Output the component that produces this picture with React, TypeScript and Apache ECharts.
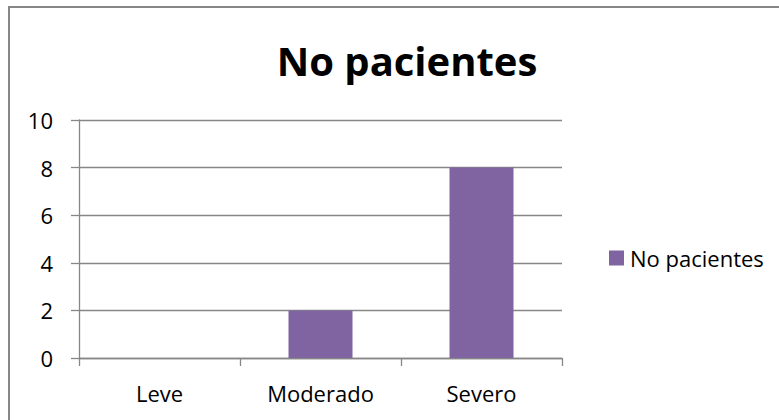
import React, { useEffect, useRef } from "react";
import * as echarts from "echarts";

const categories = ["Leve", "Moderado", "Severo"];
const seriesName = "No pacientes";
const values = [0, 2, 8];
const titleText = "No pacientes";

export default function App() {
  const ref = useRef<HTMLDivElement>(null);
  useEffect(() => {
    if (!ref.current) return;
    const chart = echarts.init(ref.current, null, { renderer: "svg" });
    const font = "Open Sans";
    const gray = "#878787";
    chart.setOption({
      animation: false,
      backgroundColor: "#ffffff",
      textStyle: { fontFamily: font },
      title: {
        text: titleText,
        left: 402,
        textAlign: "center",
        top: 35,
        textStyle: { fontFamily: font, fontSize: 40, fontWeight: "bold", color: "#000" },
      },
      legend: {
        data: [seriesName],
        left: 604,
        top: 242,
        orient: "vertical",
        icon: "rect",
        itemWidth: 15,
        itemHeight: 15,
        itemGap: 8,
        textStyle: { fontFamily: font, fontSize: 22, color: "#000", padding: [0, 0, 0, 1] },
      },
      grid: { left: 79, right: 217, top: 120, bottom: 62, containLabel: false },
      xAxis: {
        type: "category",
        data: categories,
        axisLine: { show: true, lineStyle: { color: gray, width: 1.3 } },
        axisTick: { show: true, length: 8, lineStyle: { color: gray, width: 1.3 } },
        axisLabel: { fontFamily: font, fontSize: 22, color: "#000", margin: 24 },
        splitLine: { show: false },
      },
      yAxis: {
        type: "value",
        min: 0,
        max: 10,
        interval: 2,
        axisLine: { show: true, lineStyle: { color: gray, width: 1.3 } },
        axisTick: { show: true, length: 8, lineStyle: { color: gray, width: 1.3 } },
        axisLabel: { fontFamily: font, fontSize: 22, color: "#000", margin: 26 },
        splitLine: { show: true, lineStyle: { color: gray, width: 1.3 } },
      },
      series: [
        {
          name: seriesName,
          type: "bar",
          data: values,
          barWidth: 64,
          itemStyle: { color: "#8064A2" },
        },
      ],
      graphic: [
        {
          type: "rect",
          shape: { x: 9, y: 7, width: 900, height: 600 },
          style: { fill: "none", stroke: gray, lineWidth: 2 },
          silent: true,
        },
      ],
    });
    return () => chart.dispose();
  }, []);
  return (
    <div
      ref={ref}
      style={{ position: "fixed", left: 0, top: 0, width: 779, height: 420 }}
    />
  );
}
